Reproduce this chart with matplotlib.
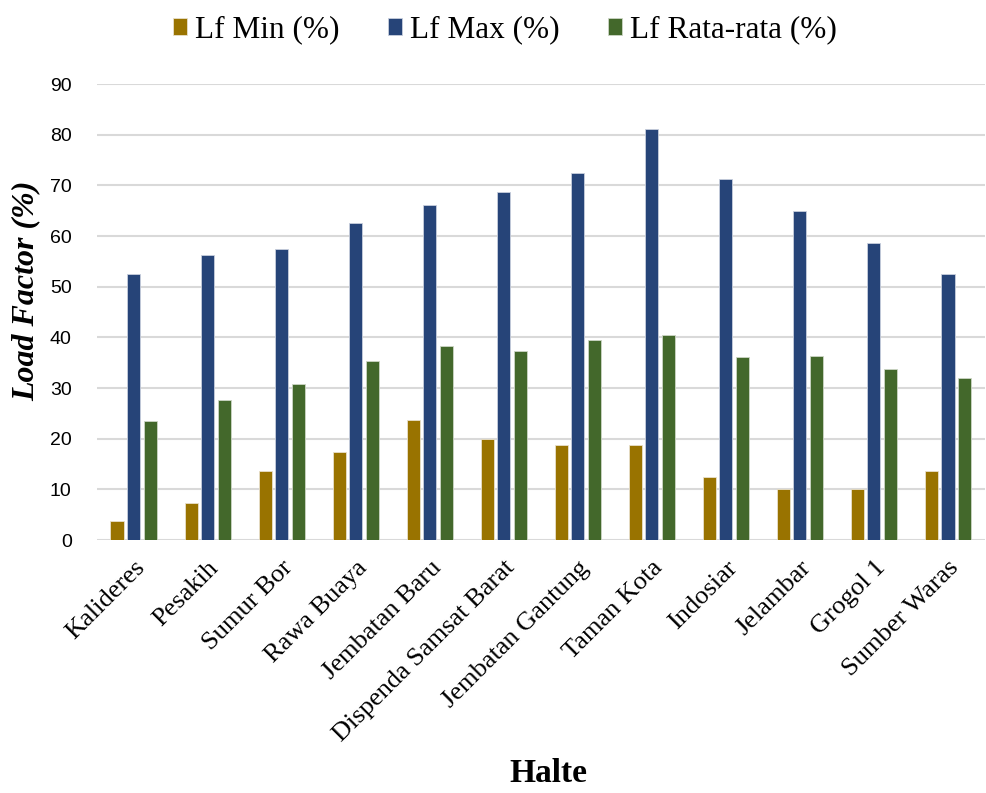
import matplotlib.pyplot as plt
import numpy as np

halte = ['Kalideres', 'Pesakih', 'Sumur Bor', 'Rawa Buaya', 'Jembatan Baru',
         'Dispenda Samsat Barat', 'Jembatan Gantung', 'Taman Kota', 'Indosiar',
         'Jelambar', 'Grogol 1', 'Sumber Waras']
lf_min = [3.7, 7.4, 13.7, 17.4, 23.7, 19.9, 18.7, 18.7, 12.4, 10.0, 10.0, 13.7]
lf_max = [52.5, 56.2, 57.5, 62.5, 66.2, 68.7, 72.4, 81.2, 71.2, 64.9, 58.7, 52.5]
lf_avg = [23.4, 27.6, 30.7, 35.4, 38.3, 37.4, 39.5, 40.4, 36.2, 36.4, 33.7, 32.0]

serif = 'Liberation Serif'
sans = 'Liberation Sans'

fig = plt.figure(figsize=(9.86, 7.93), dpi=100)
ax = fig.add_axes([0.098, 0.319, 0.901, 0.575])

x = np.arange(len(halte))
w = 0.176
step = 0.225
ax.bar(x - step, lf_min, w, color='#997300', edgecolor='#e8e0cc', lw=0.6, label='Lf Min (%)', zorder=3)
ax.bar(x, lf_max, w, color='#264478', edgecolor='#c8cfdd', lw=0.6, label='Lf Max (%)', zorder=3)
ax.bar(x + step, lf_avg, w, color='#43682b', edgecolor='#cdd6c6', lw=0.6, label='Lf Rata-rata (%)', zorder=3)

ax.set_xlim(-0.5, len(halte) - 0.5)
ax.set_ylim(0, 90)
ax.set_yticks(range(0, 91, 10))
ax.yaxis.grid(True, color='#d9d9d9', lw=1.5, zorder=0)
ax.set_axisbelow(True)
for s in ax.spines.values():
    s.set_visible(False)
ax.tick_params(length=0)
ax.tick_params(axis='y', labelsize=14, pad=18)
for t in ax.get_yticklabels():
    t.set_fontfamily(sans)

ax.set_xticks(x)
ax.set_xticklabels(halte, rotation=45, ha='right', rotation_mode='anchor',
                   fontsize=19, fontfamily=serif)
ax.tick_params(axis='x', pad=12)

ax.set_ylabel('Load Factor (%)', fontsize=23, fontweight='bold', fontstyle='italic',
              fontfamily=serif)
ax.yaxis.set_label_coords(-0.063, 0.546)
fig.text(0.556, 0.014, 'Halte', fontsize=24, fontweight='bold', fontfamily=serif,
         ha='center', va='baseline')

fig.legend(loc='center', bbox_to_anchor=(0.512, 0.962), ncol=3, frameon=False,
           prop={'family': serif, 'size': 22.5}, handlelength=0.45, handleheight=0.5,
           handletextpad=0.25, columnspacing=1.55, borderaxespad=0)

fig.savefig('out.png', dpi=100)
